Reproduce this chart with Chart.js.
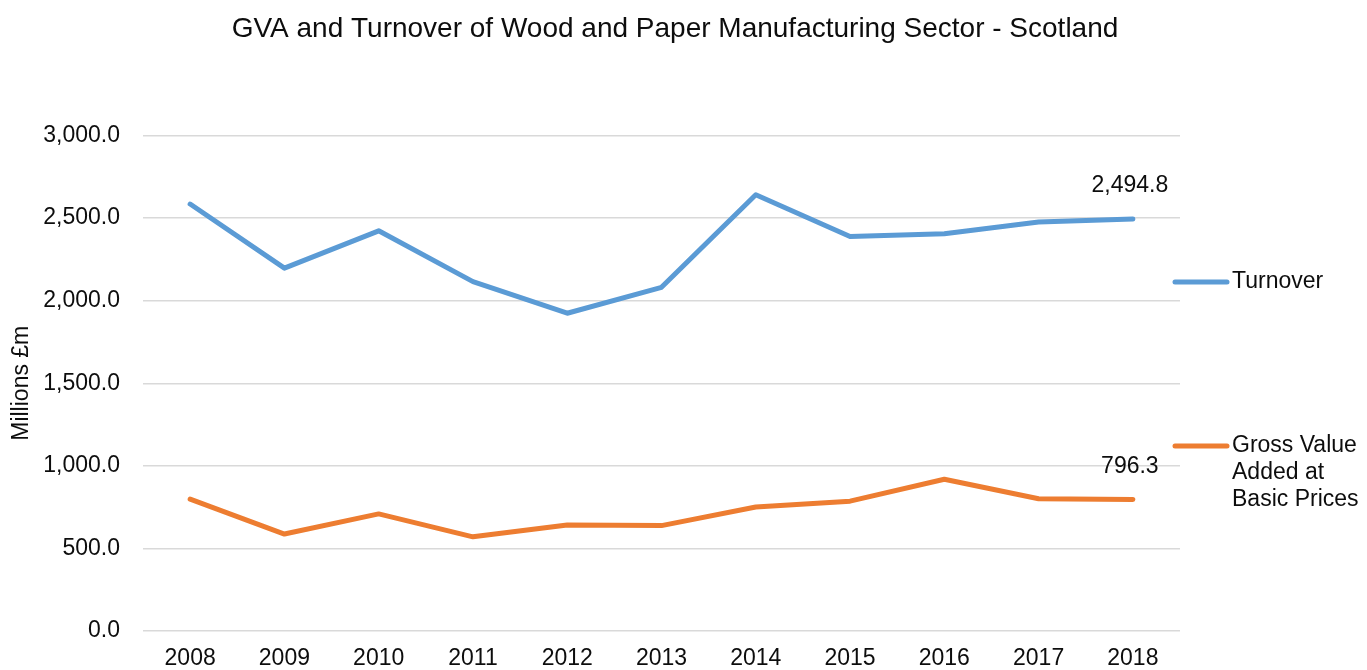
<!DOCTYPE html>
<html>
<head>
<meta charset="utf-8">
<title>GVA and Turnover - Wood and Paper Manufacturing</title>
<script src="https://cdn.jsdelivr.net/npm/chart.js@4.4.1/dist/chart.umd.min.js"></script>
<style>
    body { margin: 0; background: #fff; }
    #wrap { width: 1367px; height: 670px; }
</style>
</head>
<body>
<div id="wrap"><canvas id="GvaTurnoverGraph" width="1367" height="670"></canvas></div>
<script>
let years = ["2008", "2009", "2010", "2011", "2012", "2013", "2014", "2015", "2016", "2017", "2018"];
let turnover = [2585, 2197, 2423, 2115, 1924, 2081, 2641, 2388, 2405, 2476, 2494.8];
let gva = [798, 587, 709, 570, 642, 638, 751, 786, 919, 801, 796.3];
let chartTitle = "GVA and Turnover of Wood and Paper Manufacturing Sector - Scotland";
let legendLines = {
    "Turnover": ["Turnover"],
    "Gross Value Added at Basic Prices": ["Gross Value", "Added at", "Basic Prices"]
};

const textFont = "'Liberation Sans', Arial, sans-serif";
const textColor = "#0d0d0d";

function formatValue(v) {
    return v.toLocaleString("en-GB", { minimumFractionDigits: 1, maximumFractionDigits: 1 });
}

// title centred on the whole canvas, not just the plot
const pageTitle = {
    id: "pageTitle",
    afterDraw(chart) {
        let ctx = chart.ctx;
        ctx.save();
        ctx.font = "28px " + textFont;
        ctx.fillStyle = textColor;
        ctx.textAlign = "center";
        ctx.textBaseline = "middle";
        ctx.fillText(chartTitle, 675, 29);
        ctx.restore();
    }
};

// labels the last point of each line with its value
const lastValueLabels = {
    id: "lastValueLabels",
    afterDatasetsDraw(chart) {
        let ctx = chart.ctx;
        ctx.save();
        ctx.font = "23px " + textFont;
        ctx.fillStyle = textColor;
        ctx.textAlign = "center";
        ctx.textBaseline = "middle";
        chart.data.datasets.forEach(function (ds, i) {
            let meta = chart.getDatasetMeta(i);
            let last = meta.data.length - 1;
            let pt = meta.data[last];
            ctx.fillText(formatValue(ds.data[last]), pt.x - 3, pt.y - 33);
        });
        ctx.restore();
    }
};

// legend on the right, with wrapped entry text
const sideLegend = {
    id: "sideLegend",
    afterDraw(chart) {
        let ctx = chart.ctx;
        let area = chart.chartArea;
        let rows = [282, 446];
        ctx.save();
        ctx.font = "23px " + textFont;
        ctx.fillStyle = textColor;
        ctx.textAlign = "left";
        ctx.textBaseline = "middle";
        chart.data.datasets.forEach(function (ds, i) {
            let y = rows[i];
            ctx.strokeStyle = ds.borderColor;
            ctx.lineWidth = 5;
            ctx.lineCap = "round";
            ctx.beginPath();
            ctx.moveTo(area.right - 5, y);
            ctx.lineTo(area.right + 47, y);
            ctx.stroke();
            legendLines[ds.label].forEach(function (line, j) {
                ctx.fillText(line, area.right + 52, y + j * 27);
            });
        });
        ctx.restore();
    }
};

function setupGraph() {
    let context = document.getElementById("GvaTurnoverGraph").getContext("2d");
    let chart = new Chart(context, {
        type: "line",
        data: {
            labels: years,
            datasets: [{
                label: "Turnover",
                data: turnover,
                borderColor: "#5B9BD5",
                backgroundColor: "rgba(0,0,0,0)",
                borderWidth: 5,
                borderCapStyle: "round",
                borderJoinStyle: "round",
                pointRadius: 0,
                lineTension: 0
            },
            {
                label: "Gross Value Added at Basic Prices",
                data: gva,
                borderColor: "#ED7D31",
                backgroundColor: "rgba(0,0,0,0)",
                borderWidth: 5,
                borderCapStyle: "round",
                borderJoinStyle: "round",
                pointRadius: 0,
                lineTension: 0
            }]
        },
        options: {
            responsive: false,
            animation: false,
            devicePixelRatio: 1,
            layout: {
                padding: { left: 8, right: 187, top: 135.5, bottom: 0 }
            },
            plugins: {
                legend: { display: false },
                tooltip: { enabled: false },
                title: { display: false }
            },
            scales: {
                x: {
                    offset: true,
                    grid: { display: false, drawTicks: false },
                    border: { display: false },
                    afterFit: function (scale) { scale.height = 39; },
                    ticks: {
                        color: textColor,
                        padding: 14,
                        maxRotation: 0,
                        font: { family: textFont, size: 23 }
                    }
                },
                y: {
                    min: 0,
                    max: 3000,
                    border: { display: false },
                    grid: { color: "#d9d9d9", lineWidth: 1.5, drawTicks: false },
                    afterFit: function (scale) { scale.width = 135; },
                    ticks: {
                        stepSize: 500,
                        padding: 23,
                        color: textColor,
                        font: { family: textFont, size: 23 },
                        callback: function (value) { return formatValue(value); }
                    },
                    title: {
                        display: true,
                        text: "Millions £m",
                        color: textColor,
                        font: { family: textFont, size: 23 },
                        padding: { top: 0, bottom: 4 }
                    }
                }
            }
        },
        plugins: [pageTitle, lastValueLabels, sideLegend]
    });
}

setupGraph();
</script>
</body>
</html>
